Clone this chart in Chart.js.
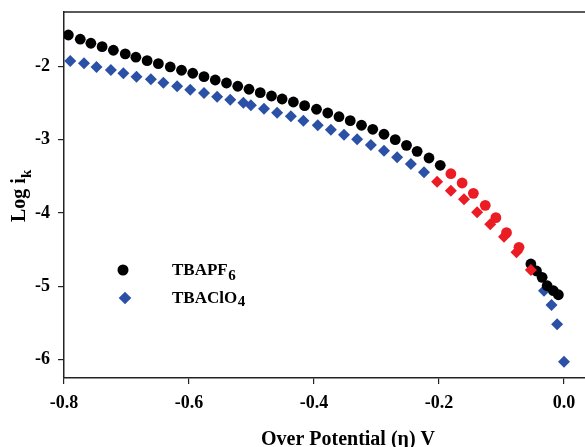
<!DOCTYPE html>
<html>
<head>
<meta charset="utf-8">
<script src="https://cdn.jsdelivr.net/npm/chart.js@4.4.1/dist/chart.umd.min.js"></script>
<style>
  html, body { margin: 0; padding: 0; background: #fff; }
  #wrap { width: 585px; height: 447px; }
</style>
</head>
<body>
<div id="wrap"><canvas id="tafel"></canvas></div>
<script>
// TBAPF6 (black circles) and its linear region (red circles)
const pf6X = [-0.793, -0.774, -0.757, -0.739, -0.721, -0.702, -0.685, -0.667, -0.649, -0.630,
  -0.612, -0.594, -0.576, -0.558, -0.540, -0.522, -0.504, -0.486, -0.468, -0.451,
  -0.433, -0.415, -0.396, -0.378, -0.360, -0.342, -0.324, -0.306, -0.288, -0.270,
  -0.252, -0.235, -0.216, -0.198,
  -0.053, -0.044, -0.035, -0.027, -0.017, -0.009];
const pf6Y = [-1.567, -1.625, -1.680, -1.727, -1.776, -1.826, -1.871, -1.918, -1.959, -2.004,
  -2.049, -2.090, -2.137, -2.182, -2.223, -2.268, -2.309, -2.355, -2.401, -2.442,
  -2.483, -2.533, -2.582, -2.633, -2.684, -2.738, -2.801, -2.856, -2.924, -2.998,
  -3.075, -3.157, -3.248, -3.348,
  -4.697, -4.793, -4.879, -4.994, -5.062, -5.117];
const pf6FitX = [-0.181, -0.163, -0.145, -0.126, -0.109, -0.092, -0.072];
const pf6FitY = [-3.463, -3.590, -3.731, -3.895, -4.064, -4.269, -4.469];

// TBAClO4 (blue diamonds) and its linear region (red diamonds)
const clo4X = [-0.790, -0.768, -0.748, -0.725, -0.705, -0.684, -0.661, -0.641, -0.619, -0.598,
  -0.576, -0.555, -0.534, -0.513, -0.501, -0.480, -0.459, -0.437, -0.417, -0.394,
  -0.373, -0.352, -0.331, -0.309, -0.288, -0.267, -0.245, -0.224,
  -0.032, -0.020, -0.011, 0.000];
const clo4Y = [-1.922, -1.954, -2.004, -2.045, -2.090, -2.137, -2.172, -2.219, -2.268, -2.314,
  -2.360, -2.410, -2.451, -2.492, -2.528, -2.574, -2.629, -2.678, -2.740, -2.801,
  -2.861, -2.930, -2.992, -3.070, -3.148, -3.239, -3.330, -3.444,
  -5.062, -5.258, -5.522, -6.033];
const clo4FitX = [-0.203, -0.181, -0.160, -0.139, -0.118, -0.096, -0.076, -0.053];
const clo4FitY = [-3.572, -3.695, -3.813, -3.990, -4.154, -4.324, -4.537, -4.779];

const xTicks = [-0.8, -0.6, -0.4, -0.2, 0.0];
const yTicks = [-2, -3, -4, -5, -6];

const xTitle = 'Over Potential (\u03B7) V';
const legendNames = [['TBAPF', '6'], ['TBAClO', '4']];

const SERIF = '"Liberation Serif", "DejaVu Serif", serif';
const BLACK = '#000000';
const BLUE = '#2b51a6';
const RED = '#ec1c24';
const AXIS = '#222222';

function toPoints(xs, ys) {
  return xs.map((x, i) => ({ x: x, y: ys[i] }));
}

// top frame line, axis titles (with subscripts) and the in-plot legend
const decorations = {
  id: 'decorations',
  afterDraw(chart) {
    const ctx = chart.ctx;
    const area = chart.chartArea;
    ctx.save();

    ctx.strokeStyle = AXIS;
    ctx.lineWidth = 1.5;
    ctx.beginPath();
    ctx.moveTo(area.left, area.top);
    ctx.lineTo(area.right, area.top);
    ctx.stroke();

    ctx.fillStyle = '#000';
    ctx.textBaseline = 'alphabetic';

    // x title
    ctx.font = 'bold 20px ' + SERIF;
    ctx.textAlign = 'center';
    ctx.fillText(xTitle, 348, 445);

    // y title: Log i_k
    ctx.translate(25, 222);
    ctx.rotate(-Math.PI / 2);
    ctx.textAlign = 'left';
    ctx.font = 'bold 20px ' + SERIF;
    const main = 'Log i';
    ctx.fillText(main, 0, 0);
    const w = ctx.measureText(main).width;
    ctx.font = 'bold 15px ' + SERIF;
    ctx.fillText('k', w, 6);
    ctx.setTransform(1, 0, 0, 1, 0, 0);

    // legend
    ctx.fillStyle = BLACK;
    ctx.beginPath();
    ctx.arc(123, 270, 5.5, 0, Math.PI * 2);
    ctx.fill();

    ctx.fillStyle = BLUE;
    ctx.beginPath();
    ctx.moveTo(125 - 6.3, 298);
    ctx.lineTo(125, 298 - 6.3);
    ctx.lineTo(125 + 6.3, 298);
    ctx.lineTo(125, 298 + 6.3);
    ctx.closePath();
    ctx.fill();

    ctx.fillStyle = '#000';
    const rows = [[275, 5], [303, 3]];
    legendNames.forEach((name, i) => {
      ctx.font = 'bold 17px ' + SERIF;
      ctx.fillText(name[0], 172, rows[i][0]);
      const tw = ctx.measureText(name[0]).width;
      ctx.font = 'bold 15px ' + SERIF;
      ctx.fillText(name[1], 172 + tw + 0.5, rows[i][0] + rows[i][1]);
    });

    ctx.restore();
  }
};

const tickFont = { family: SERIF, size: 18, weight: 'bold' };

new Chart(document.getElementById('tafel'), {
  type: 'scatter',
  data: {
    datasets: [
      {
        label: 'TBAClO4',
        data: toPoints(clo4X, clo4Y),
        pointStyle: 'rectRot',
        pointRadius: 6,
        backgroundColor: BLUE,
        borderWidth: 0,
        order: 4
      },
      {
        label: 'TBAPF6',
        data: toPoints(pf6X, pf6Y),
        pointStyle: 'circle',
        pointRadius: 5.4,
        backgroundColor: BLACK,
        borderWidth: 0,
        order: 3
      },
      {
        label: 'TBAClO4 fit',
        data: toPoints(clo4FitX, clo4FitY),
        pointStyle: 'rectRot',
        pointRadius: 6,
        backgroundColor: RED,
        borderWidth: 0,
        order: 2
      },
      {
        label: 'TBAPF6 fit',
        data: toPoints(pf6FitX, pf6FitY),
        pointStyle: 'circle',
        pointRadius: 5.4,
        backgroundColor: RED,
        borderWidth: 0,
        order: 1
      }
    ]
  },
  options: {
    responsive: true,
    maintainAspectRatio: false,
    animation: false,
    layout: { autoPadding: false, padding: { top: 12, right: 0, left: 0, bottom: 0 } },
    plugins: {
      legend: { display: false },
      tooltip: { enabled: false }
    },
    scales: {
      x: {
        type: 'linear',
        min: -0.8,
        max: 0.0336,
        afterBuildTicks: (s) => { s.ticks = xTicks.map(v => ({ value: v })); },
        afterFit: (s) => {
          s.height = 69;
          s.paddingLeft = 0;
          s.paddingRight = 0;
        },
        ticks: {
          color: '#000',
          font: tickFont,
          padding: 9,
          maxRotation: 0,
          callback: (v) => Number(v).toFixed(1)
        },
        grid: { drawOnChartArea: false, drawTicks: true, tickLength: 6, color: AXIS, lineWidth: 1.2 },
        border: { display: true, color: AXIS, width: 1.5 }
      },
      y: {
        type: 'linear',
        min: -6.255,
        max: -1.253,
        afterBuildTicks: (s) => { s.ticks = yTicks.map(v => ({ value: v })); },
        afterFit: (s) => {
          s.width = 64;
          s.paddingTop = 0;
          s.paddingBottom = 0;
        },
        ticks: {
          color: '#000',
          font: tickFont,
          padding: 8,
          callback: (v) => String(v)
        },
        grid: { drawOnChartArea: false, drawTicks: true, tickLength: 6, color: AXIS, lineWidth: 1.2 },
        border: { display: true, color: AXIS, width: 1.5 }
      }
    }
  },
  plugins: [decorations]
});
</script>
</body>
</html>
